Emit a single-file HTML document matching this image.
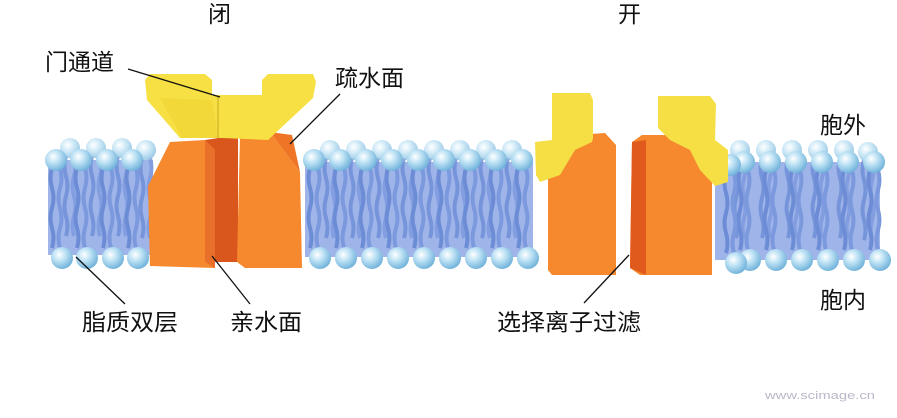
<!DOCTYPE html>
<html><head><meta charset="utf-8"><style>
html,body{margin:0;padding:0;background:#fff;}
svg{display:block;}
text{font-family:"Liberation Sans","Noto Sans CJK SC",sans-serif;fill:#111;}
</style></head><body>
<svg width="897" height="418" viewBox="0 0 897 418" xmlns="http://www.w3.org/2000/svg">
<defs>
<radialGradient id="hg" cx="0.38" cy="0.35" r="0.7">
<stop offset="0" stop-color="#ffffff"/><stop offset="0.4" stop-color="#bfe3f5"/><stop offset="1" stop-color="#6aaed8"/></radialGradient>
<g id="tails">
<path d="M-4,8 q-3,10 0,20 q3,10 0,20 q-3,10 0,20 q3,10 0,20" stroke="#6d8cd6" stroke-width="4" fill="none"/>
<path d="M4,8 q3,10 0,20 q-3,10 0,20 q3,10 0,20 q-3,10 0,20" stroke="#7c99de" stroke-width="4" fill="none"/>
</g>
<g id="lip">
<use href="#tails"/>
<circle cx="0" cy="0" r="11" fill="url(#hg)"/>
<circle cx="6" cy="98" r="11" fill="url(#hg)"/>
</g>
<g id="back">
<use href="#tails"/>
<circle cx="0" cy="0" r="10" fill="url(#hg)" opacity="0.85"/>
</g>
</defs>

<!-- left lipid block -->
<rect x="48" y="160" width="105" height="95" fill="#9fb5ea"/>
<g opacity="0.8"><use href="#back" x="70" y="148"/><use href="#back" x="96" y="148"/><use href="#back" x="122" y="148"/><use href="#back" x="146" y="150"/></g>
<use href="#lip" x="56" y="160"/><use href="#lip" x="81" y="160"/><use href="#lip" x="107" y="160"/><use href="#lip" x="132" y="160"/>

<!-- middle lipid block -->
<rect x="305" y="162" width="228" height="95" fill="#9fb5ea"/>
<g opacity="0.8"><use href="#back" x="330" y="150"/><use href="#back" x="356" y="150"/><use href="#back" x="382" y="150"/><use href="#back" x="408" y="150"/><use href="#back" x="434" y="150"/><use href="#back" x="460" y="150"/><use href="#back" x="486" y="150"/><use href="#back" x="512" y="150"/></g>
<use href="#lip" x="314" y="160"/><use href="#lip" x="340" y="160"/><use href="#lip" x="366" y="160"/><use href="#lip" x="392" y="160"/><use href="#lip" x="418" y="160"/><use href="#lip" x="444" y="160"/><use href="#lip" x="470" y="160"/><use href="#lip" x="496" y="160"/><use href="#lip" x="522" y="160"/>

<!-- right lipid block -->
<rect x="715" y="162" width="165" height="98" fill="#9fb5ea"/>
<g opacity="0.8"><use href="#back" x="740" y="150"/><use href="#back" x="766" y="150"/><use href="#back" x="792" y="150"/><use href="#back" x="818" y="150"/><use href="#back" x="844" y="150"/><use href="#back" x="868" y="152"/></g>
<use href="#lip" x="744" y="162"/><use href="#lip" x="770" y="162"/><use href="#lip" x="796" y="162"/><use href="#lip" x="822" y="162"/><use href="#lip" x="848" y="162"/><use href="#lip" x="874" y="162"/>
<use href="#lip" x="730" y="165"/>

<!-- closed channel -->
<polygon points="205,140 238,135 238,262 215,262" fill="#d9561c"/>
<polygon points="170,142 205,140 215,150 215,268 150,266 148,186" fill="#f6882e"/>
<polygon points="205,140 215,150 215,268 205,262" fill="#e8702a"/>
<polygon points="240,137 270,132 300,172 302,268 245,268 237,262" fill="#f6882e"/>
<polygon points="270,132 292,135 300,172" fill="#ee7426"/>
<polygon points="145,80 150,74 205,74 212,80 212,95 262,95 262,80 268,74 313,74 316,82 313,98 268,140 222,138 180,138 147,100" fill="#f6e043"/>
<polygon points="160,98 212,100 218,138 182,138" fill="#f0d232" opacity="0.6"/>
<line x1="218" y1="96" x2="218" y2="138" stroke="#c8a820" stroke-width="1"/>

<!-- open channel -->
<polygon points="548,148 575,135 605,133 616,145 616,275 552,275 548,270" fill="#f6882e"/>
<polygon points="552,93 590,93 593,100 593,138 592,142 575,150 560,175 540,182 536,175 535,142 552,140" fill="#f5df45"/>
<polygon points="632,142 642,135 710,135 712,148 712,275 640,275 630,268" fill="#f6882e"/>
<polygon points="632,142 646,140 646,275 630,268" fill="#df5a1c"/>
<polygon points="658,96 710,96 716,104 715,140 728,150 728,182 715,186 700,170 690,150 670,140 658,128" fill="#f5df45"/>

<!-- leader lines -->
<g stroke="#111" stroke-width="1.3">
<line x1="128" y1="69" x2="220" y2="97"/>
<line x1="340" y1="94" x2="290" y2="144"/>
<line x1="125" y1="304" x2="76" y2="257"/>
<line x1="250" y1="304" x2="212" y2="256"/>
<line x1="584" y1="303" x2="629" y2="255"/>
</g>

<!-- labels -->
<g font-size="23">
<text x="208" y="22">闭</text>
<text x="618" y="22">开</text>
<text x="45" y="70">门通道</text>
<text x="335" y="86">疏水面</text>
<text x="820" y="133">胞外</text>
<text x="820" y="308">胞内</text>
<text x="82" y="330" textLength="96" lengthAdjust="spacingAndGlyphs">脂质双层</text>
<text x="230" y="330" textLength="72" lengthAdjust="spacingAndGlyphs">亲水面</text>
<text x="497" y="330" textLength="144" lengthAdjust="spacingAndGlyphs">选择离子过滤</text>
</g>
<text x="765" y="399" font-size="11" textLength="110" lengthAdjust="spacingAndGlyphs" style="fill:#b8b8c8">www.scimage.cn</text>
</svg>
</body></html>
